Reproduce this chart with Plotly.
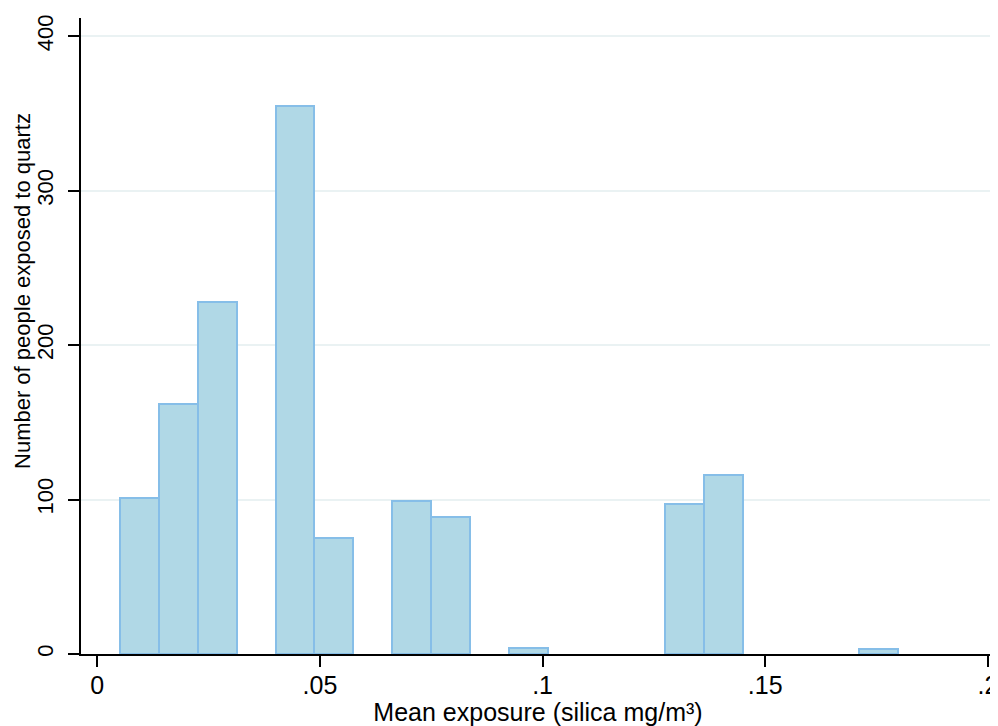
import plotly.graph_objects as go

# Histogram bins
bin_start = 0.00508
bin_width = 0.00874
counts = [101, 162, 228, 0, 355, 75, 0, 99, 89, 0, 4, 0, 0, 0, 97, 116, 0, 0, 0, 3]

x_ticks = [0, 0.05, 0.1, 0.15, 0.2]
x_tick_labels = ["0", ".05", ".1", ".15", ".2"]
y_ticks = [0, 100, 200, 300, 400]
y_tick_labels = ["0", "100", "200", "300", "400"]

x_title = "Mean exposure (silica mg/m³)"
y_title = "Number of people exposed to quartz"

centers = [bin_start + bin_width * (i + 0.5) for i, c in enumerate(counts) if c > 0]
vals = [c for c in counts if c > 0]

fig = go.Figure(
    go.Bar(
        x=centers,
        y=vals,
        width=bin_width,
        marker=dict(color="rgb(176,216,230)", line=dict(color="rgb(134,190,232)", width=2)),
        hoverinfo="x+y",
    )
)

font = "Liberation Sans, Arial, sans-serif"

# page body has an 8px margin, so the figure is sized to end at the window edge
fig.update_layout(
    width=990,
    height=718,
    margin=dict(l=73, r=0, t=10, b=72),
    paper_bgcolor="white",
    plot_bgcolor="white",
    showlegend=False,
    font=dict(family=font, size=23, color="black"),
    bargap=0,
)

fig.update_xaxes(
    range=[-0.00365, 0.2016],
    tickvals=x_ticks,
    ticktext=x_tick_labels,
    ticks="outside",
    ticklen=11,
    tickwidth=1.5,
    tickcolor="black",
    showline=True,
    linecolor="black",
    linewidth=1.5,
    showgrid=False,
    zeroline=False,
    tickfont=dict(size=25),
    ticklabelstandoff=-3,
    ticklabeloverflow="allow",
    title=dict(text=x_title, font=dict(size=25), standoff=0),
)

fig.update_yaxes(
    range=[0, 411.7],
    tickvals=y_ticks,
    ticktext=y_tick_labels,
    ticks="outside",
    ticklen=11,
    tickwidth=1.5,
    tickcolor="black",
    tickangle=-90,
    showline=True,
    linecolor="black",
    linewidth=1.5,
    showgrid=True,
    gridcolor="rgb(234,242,243)",
    gridwidth=1.5,
    zeroline=False,
    tickfont=dict(size=22),
    ticklabelstandoff=6,
)

fig.add_annotation(
    text=y_title,
    textangle=-90,
    xref="paper",
    yref="paper",
    x=-0.064,
    y=0.57,
    xanchor="center",
    yanchor="middle",
    showarrow=False,
    font=dict(size=22),
)

fig.write_html("out.html")
